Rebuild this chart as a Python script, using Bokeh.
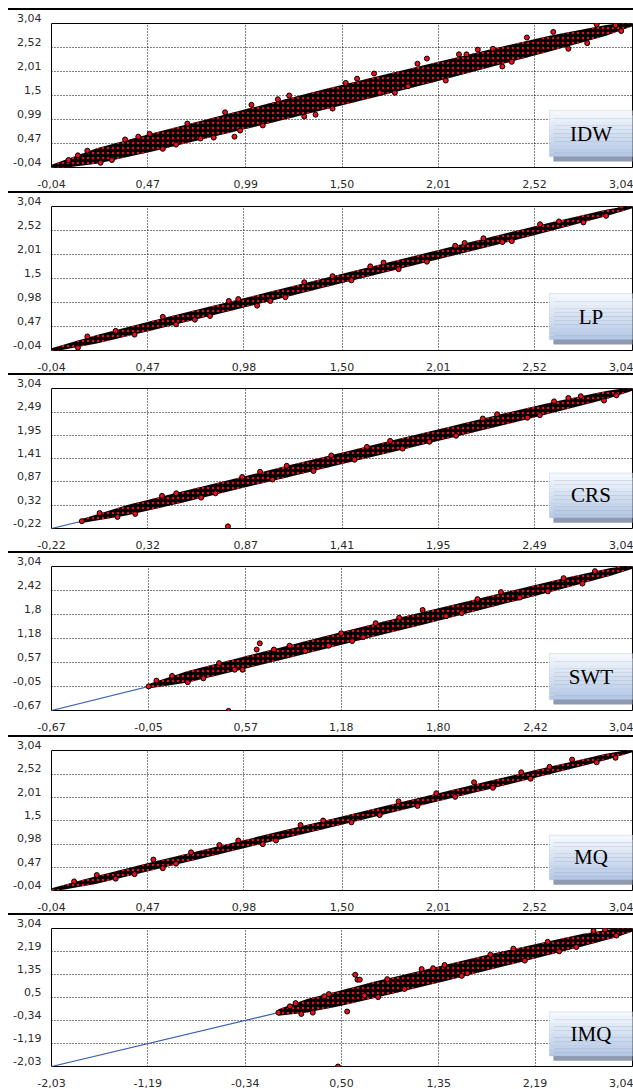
from bokeh.plotting import figure
from bokeh.models import FixedTicker, Div, BoxAnnotation, Label
from bokeh.layouts import column
from bokeh.embed import file_html
from bokeh.resources import INLINE

# ---------------- data ----------------
names = ["IDW", "LP", "CRS", "SWT", "MQ", "IMQ"]

ticks = {
    "IDW": [-0.04, 0.47, 0.99, 1.50, 2.01, 2.52, 3.04],
    "LP":  [-0.04, 0.47, 0.98, 1.50, 2.01, 2.52, 3.04],
    "CRS": [-0.22, 0.32, 0.87, 1.41, 1.95, 2.49, 3.04],
    "SWT": [-0.67, -0.05, 0.57, 1.18, 1.80, 2.42, 3.04],
    "MQ":  [-0.04, 0.47, 0.98, 1.50, 2.01, 2.52, 3.04],
    "IMQ": [-2.03, -1.19, -0.34, 0.50, 1.35, 2.19, 3.04],
}
x_tick_labels = {
    "IDW": ["-0,04", "0,47", "0,99", "1,50", "2,01", "2,52", "3,04"],
    "LP":  ["-0,04", "0,47", "0,98", "1,50", "2,01", "2,52", "3,04"],
    "CRS": ["-0,22", "0,32", "0,87", "1,41", "1,95", "2,49", "3,04"],
    "SWT": ["-0,67", "-0,05", "0,57", "1,18", "1,80", "2,42", "3,04"],
    "MQ":  ["-0,04", "0,47", "0,98", "1,50", "2,01", "2,52", "3,04"],
    "IMQ": ["-2,03", "-1,19", "-0,34", "0,50", "1,35", "2,19", "3,04"],
}
y_tick_labels = {
    "IDW": ["-0,04", "0,47", "0,99", "1,5", "2,01", "2,52", "3,04"],
    "LP":  ["-0,04", "0,47", "0,98", "1,5", "2,01", "2,52", "3,04"],
    "CRS": ["-0,22", "0,32", "0,87", "1,41", "1,95", "2,49", "3,04"],
    "SWT": ["-0,67", "-0,05", "0,57", "1,18", "1,8", "2,42", "3,04"],
    "MQ":  ["-0,04", "0,47", "0,98", "1,5", "2,01", "2,52", "3,04"],
    "IMQ": ["-2,03", "-1,19", "-0,34", "0,5", "1,35", "2,19", "3,04"],
}

# dense core of the observed/predicted cloud: x stations, lower and upper predicted values
band_x = {
    "IDW": [-0.04, 0.20, 0.50, 0.80, 1.10, 1.40, 1.70, 2.00, 2.30, 2.60, 2.90, 3.04],
    "LP":  [-0.04, 0.20, 0.50, 0.80, 1.10, 1.40, 1.70, 2.00, 2.30, 2.60, 2.90, 3.04],
    "CRS": [-0.05, 0.20, 0.50, 0.80, 1.10, 1.40, 1.70, 2.00, 2.30, 2.60, 2.90, 3.04],
    "SWT": [-0.05, 0.20, 0.50, 0.80, 1.10, 1.40, 1.70, 2.00, 2.30, 2.60, 2.90, 3.04],
    "MQ":  [-0.04, 0.20, 0.50, 0.80, 1.10, 1.40, 1.70, 2.00, 2.30, 2.60, 2.90, 3.04],
    "IMQ": [-0.05, 0.20, 0.50, 0.80, 1.10, 1.40, 1.70, 2.00, 2.30, 2.60, 2.90, 3.04],
}
band_lo = {
    "IDW": [-0.08, 0.04, 0.31, 0.60, 0.89, 1.19, 1.49, 1.80, 2.12, 2.44, 2.78, 2.98],
    "LP":  [-0.07, 0.11, 0.40, 0.70, 1.00, 1.30, 1.60, 1.90, 2.20, 2.51, 2.83, 3.00],
    "CRS": [-0.09, 0.08, 0.37, 0.67, 0.97, 1.27, 1.57, 1.87, 2.17, 2.48, 2.80, 2.99],
    "SWT": [-0.10, 0.05, 0.34, 0.64, 0.94, 1.24, 1.54, 1.85, 2.16, 2.47, 2.80, 2.98],
    "MQ":  [-0.07, 0.11, 0.41, 0.71, 1.01, 1.31, 1.61, 1.91, 2.21, 2.52, 2.83, 3.00],
    "IMQ": [-0.17, -0.05, 0.20, 0.50, 0.80, 1.10, 1.42, 1.74, 2.06, 2.38, 2.72, 2.93],
}
band_hi = {
    "IDW": [0.02, 0.37, 0.70, 1.01, 1.32, 1.63, 1.92, 2.21, 2.50, 2.78, 3.01, 3.08],
    "LP":  [0.01, 0.29, 0.60, 0.90, 1.20, 1.50, 1.80, 2.10, 2.40, 2.69, 2.97, 3.07],
    "CRS": [0.00, 0.32, 0.63, 0.93, 1.24, 1.54, 1.84, 2.14, 2.44, 2.73, 2.99, 3.07],
    "SWT": [0.01, 0.35, 0.66, 0.96, 1.27, 1.57, 1.87, 2.16, 2.45, 2.74, 3.00, 3.07],
    "MQ":  [0.01, 0.28, 0.59, 0.89, 1.19, 1.49, 1.79, 2.09, 2.39, 2.68, 2.97, 3.07],
    "IMQ": [0.07, 0.45, 0.77, 1.10, 1.40, 1.70, 2.00, 2.29, 2.56, 2.84, 3.05, 3.10],
}

# individual scattered points (observed, predicted)
pts_x = {
    "IDW": [1.95, 2.12, 2.16, 1.67, 1.16, 0.88, 0.93, 0.96, 1.36, 1.30, 1.70, 0.35, 0.62, 0.15,
            2.62, 2.80, 2.40, 0.22, 1.52, 2.30, 0.48, 0.75, 1.85, 2.95, 0.05,
            0.10, 0.28, 0.42, 0.55, 0.68, 0.82, 1.02, 1.08, 1.22, 1.45, 1.58, 1.78, 1.90, 2.05,
            2.22, 2.35, 2.48, 2.70, 2.85, 2.98],
    "LP":  [0.30, 0.62, 0.95, 1.20, 1.45, 1.80, 2.10, 2.35, 2.65, 2.90, 0.80, 1.65, 2.25, 0.10, 1.05,
            0.15, 0.40, 0.55, 0.72, 0.90, 1.12, 1.30, 1.55, 1.72, 1.95, 2.15, 2.40, 2.55, 2.78, 2.98],
    "CRS": [0.77, 0.40, 0.62, 0.95, 1.25, 1.55, 1.90, 2.20, 2.45, 2.75, 2.95, 0.15, 1.10, 1.75, 2.60,
            0.05, 0.25, 0.48, 0.70, 0.85, 1.02, 1.35, 1.48, 1.68, 2.05, 2.28, 2.52, 2.68, 2.88, -0.05],
    "SWT": [0.66, 0.64, 0.46, 0.10, 0.30, 0.85, 1.10, 1.40, 1.70, 1.95, 2.20, 2.50, 2.80, 1.25, 0.55,
            0.00, 0.20, 0.40, 0.50, 0.75, 0.95, 1.18, 1.32, 1.55, 1.85, 2.05, 2.32, 2.60, 2.72, 2.95, -0.05],
    "MQ":  [0.20, 0.55, 0.85, 1.15, 1.40, 1.70, 2.00, 2.30, 2.60, 2.85, 0.70, 1.90, 0.40, 2.45,
            0.08, 0.30, 0.50, 0.62, 0.95, 1.08, 1.28, 1.55, 1.80, 2.10, 2.20, 2.50, 2.72, 2.95],
    "IMQ": [0.62, 0.64, 0.66, 0.39, 0.55, 0.82, 0.47, 0.10, 1.20, 1.60, 2.00, 2.40, 2.80, 0.25, 1.40,
            0.05, 0.15, 0.35, 0.70, 0.90, 1.05, 1.30, 1.55, 1.80, 2.10, 2.30, 2.55, 2.70, 2.90, -0.05],
}
pts_y = {
    "IDW": [2.29, 2.38, 2.38, 1.97, 1.42, 1.14, 0.62, 0.75, 1.09, 1.05, 1.56, 0.56, 0.45, 0.32,
            2.86, 2.62, 2.22, 0.06, 1.77, 2.50, 0.68, 0.58, 1.70, 3.00, 0.12,
            0.22, 0.12, 0.62, 0.36, 0.90, 0.60, 1.30, 0.86, 1.50, 1.22, 1.86, 1.56, 2.18, 1.82,
            2.48, 2.12, 2.74, 2.50, 3.02, 2.88],
    "LP":  [0.38, 0.52, 1.06, 1.10, 1.55, 1.70, 2.20, 2.28, 2.72, 2.84, 0.70, 1.76, 2.36, 0.02, 0.92,
            0.26, 0.30, 0.68, 0.62, 1.02, 1.02, 1.42, 1.46, 1.84, 1.86, 2.26, 2.30, 2.66, 2.70, 3.04],
    "CRS": [-0.17, 0.54, 0.50, 1.10, 1.12, 1.68, 1.80, 2.34, 2.36, 2.86, 2.88, 0.05, 1.24, 1.64, 2.74,
            0.14, 0.12, 0.60, 0.60, 0.98, 0.92, 1.48, 1.38, 1.82, 1.94, 2.44, 2.42, 2.82, 2.76, -0.05],
    "SWT": [1.06, 0.90, -0.68, 0.22, 0.16, 1.00, 1.00, 1.58, 1.92, 1.84, 2.38, 2.40, 2.92, 1.12, 0.38,
            0.10, 0.06, 0.55, 0.38, 0.90, 0.86, 1.32, 1.22, 1.72, 1.76, 2.20, 2.24, 2.74, 2.60, 3.05, -0.05],
    "MQ":  [0.30, 0.45, 0.96, 1.06, 1.50, 1.62, 2.10, 2.22, 2.68, 2.78, 0.80, 1.82, 0.32, 2.56,
            0.16, 0.22, 0.64, 0.55, 1.06, 0.98, 1.40, 1.46, 1.92, 2.02, 2.34, 2.42, 2.84, 2.88],
    "IMQ": [1.34, 1.16, 1.16, 0.63, -0.01, 0.52, -2.03, 0.30, 1.55, 1.40, 2.30, 2.20, 3.00, -0.05, 1.70,
            0.18, -0.10, 0.55, 0.58, 1.18, 0.82, 1.58, 1.30, 2.08, 1.86, 2.55, 2.36, 2.95, 2.78, -0.05],
}

# ---------------- styling ----------------
fig_heights = [181, 180, 176, 182, 176, 174]
RED = "#e8101a"
TICK_FONT = "DejaVu Sans"
TICK_COLOR = "#2b2b2b"
GRAD_TOP = (247, 250, 254)
GRAD_BOT = (178, 198, 228)


def mix(a, b, t):
    return "#%02x%02x%02x" % tuple(int(round(a[i] + (b[i] - a[i]) * t)) for i in range(3))


def make_panel(name, h):
    tk = ticks[name]
    lo, hi = tk[0], tk[-1]
    span = hi - lo
    p = figure(width=633, height=h, x_range=(lo, hi), y_range=(lo, hi),
               output_backend="svg", toolbar_location=None,
               min_border_left=51, min_border_right=1, min_border_top=13,
               min_border_bottom=h - 157)
    p.background_fill_color = "white"
    p.border_fill_color = "white"
    p.outline_line_color = "black"
    p.outline_line_width = 1

    xa, ya = p.xaxis[0], p.yaxis[0]
    xa.major_label_overrides = {v: s for v, s in zip(tk, x_tick_labels[name])}
    # trailing blank line lifts each y label so that it sits on its grid line
    ya.major_label_overrides = {v: s + "\n " for v, s in zip(tk, y_tick_labels[name])}
    ya.major_label_text_line_height = 0.8
    for ax in (xa, ya):
        ax.ticker = FixedTicker(ticks=tk)
        ax.axis_line_color = None
        ax.major_tick_line_color = None
        ax.minor_tick_line_color = None
        ax.major_label_text_font = TICK_FONT
        ax.major_label_text_font_size = "11px"
        ax.major_label_text_color = TICK_COLOR
    xa.major_label_standoff = 6
    ya.major_label_standoff = 4

    for g in (p.xgrid[0], p.ygrid[0]):
        g.grid_line_color = "black"
        g.grid_line_dash = "1 2"
        g.grid_line_alpha = 1.0
        g.grid_line_width = 1

    # 1:1 line
    p.line([lo, hi], [lo, hi], line_color="#3b62b3", line_width=1.2)
    # dense core
    p.varea(x=band_x[name], y1=band_lo[name], y2=band_hi[name],
            fill_color="black", hatch_pattern="dot", hatch_color=RED,
            hatch_scale=5, hatch_weight=2.4)
    # scattered points
    p.scatter(pts_x[name], pts_y[name], size=5, fill_color=RED,
              line_color="black", line_width=1)

    # method label box
    fx = span / 581.0
    fy = span / 144.0
    left = lo + 0.857 * span
    right = hi + 2 * fx
    top = lo + 0.396 * span
    bottom = lo + 0.076 * span
    p.add_layout(BoxAnnotation(left=left + 4 * fx, right=right, top=top - 5 * fy,
                               bottom=bottom - 5 * fy, fill_color="#8e9ab0",
                               fill_alpha=1, line_color=None))
    n = 12
    for i in range(n):
        t0 = top - (top - bottom) * i / n
        t1 = top - (top - bottom) * (i + 1) / n
        p.add_layout(BoxAnnotation(left=left, right=right, top=t0, bottom=t1,
                                   fill_color=mix(GRAD_TOP, GRAD_BOT, (i + 0.5) / n),
                                   fill_alpha=1, line_color=None))
    p.add_layout(BoxAnnotation(left=left, right=right, top=top, bottom=bottom,
                               fill_alpha=0, line_color="#9db3d4", line_width=1))
    p.add_layout(Label(x=(left + hi) / 2, y=(top + bottom) / 2, text=name,
                       text_font="Liberation Serif", text_font_size="21px",
                       text_color="black", text_align="center", text_baseline="middle"))
    return p


children = [Div(text="", width=633, height=8, margin=(0, 0, 0, 0))]
for name, h in zip(names, fig_heights):
    children.append(Div(text="", width=625, height=2, margin=(0, 0, 0, 8),
                        styles={"background-color": "black"}))
    children.append(make_panel(name, h))

layout = column(children=children, spacing=0)
open("out.html", "w").write(file_html(layout, INLINE))
